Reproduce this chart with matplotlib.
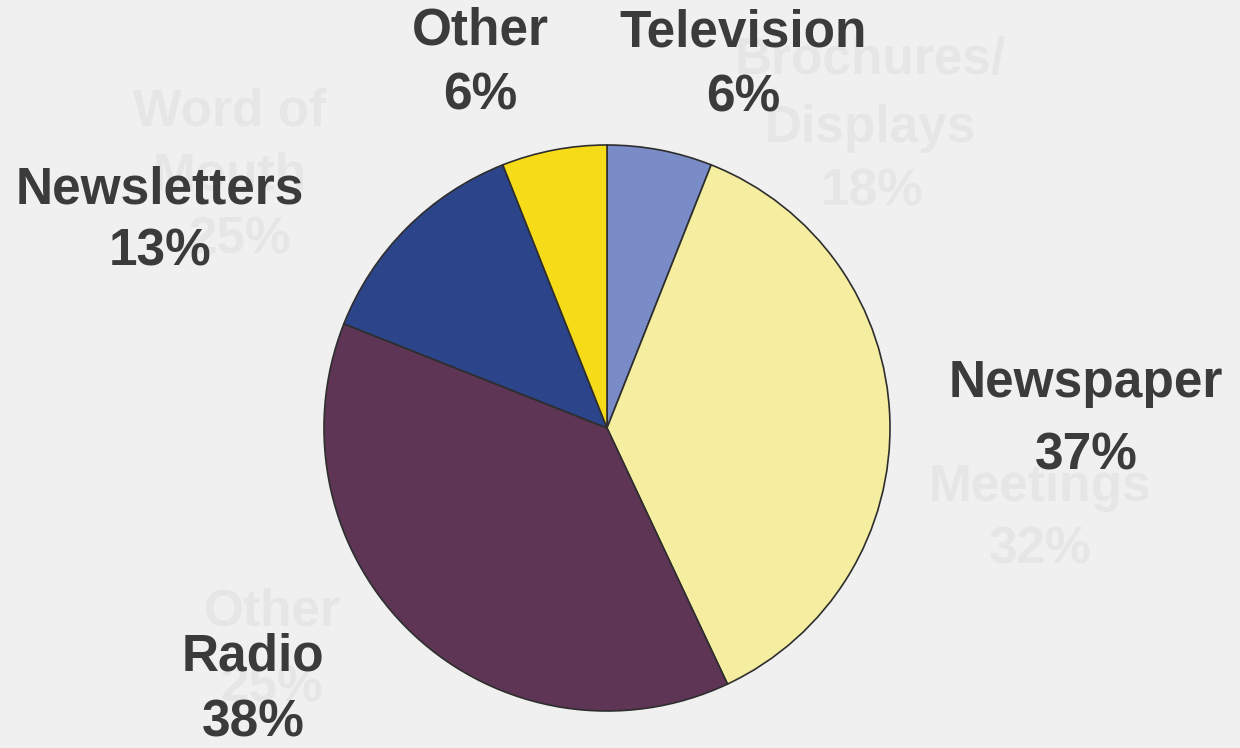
import matplotlib
matplotlib.use("Agg")
from matplotlib import pyplot as plt

# slices, clockwise from 12 o'clock
labels = ["Television", "Newspaper", "Radio", "Newsletters", "Other"]
shares = [6, 37, 38, 13, 6]
colors = ["#7a8cc8", "#f5eea0", "#5f3556", "#2c4489", "#f6dc18"]

# label positions in pixels (x, name line y, percent line y)
label_pos = {
    "Television": (743, 33, 98),
    "Newspaper": (1086, 383, 456),
    "Radio": (253, 657, 723),
    "Newsletters": (160, 190, 252),
    "Other": (480, 31, 96),
}

# faint text from the other side of the sheet
ghost_lines = [
    ("Word of", 230, 112), ("Mouth", 230, 176), ("25%", 240, 240),
    ("Brochures/", 870, 60), ("Displays", 870, 128), ("18%", 872, 192),
    ("Meetings", 1040, 487), ("32%", 1040, 550),
    ("Other", 272, 612), ("25%", 272, 688),
]

W, H = 1240, 748
bg = "#f0f0f0"
ink = "#3b3b3b"
fs = 37

fig = plt.figure(figsize=(W / 100, H / 100), dpi=100, facecolor=bg)
ax = fig.add_axes([0, 0, 1, 1])
ax.set_facecolor(bg)

for txt, x, y in ghost_lines:
    ax.text(x, H - y, txt, ha="center", va="center", fontsize=fs,
            fontweight="bold", family="Liberation Sans", color="#e5e5e5",
            alpha=0.9, zorder=0)

ax.pie(shares, colors=colors, startangle=90, counterclock=False,
       center=(607, H - 428), radius=283,
       wedgeprops=dict(edgecolor="#2e2e2e", linewidth=1.2))

for name, val in zip(labels, shares):
    x, y1, y2 = label_pos[name]
    ax.text(x, H - y1, name, ha="center", va="center", fontsize=fs,
            fontweight="bold", family="Liberation Sans", color=ink, zorder=5)
    ax.text(x, H - y2, f"{val}%", ha="center", va="center", fontsize=fs,
            fontweight="bold", family="Liberation Sans", color=ink, zorder=5)

ax.set_xlim(0, W)
ax.set_ylim(0, H)
ax.set_aspect("auto")
ax.axis("off")

fig.savefig("out.png", dpi=100, facecolor=bg)
